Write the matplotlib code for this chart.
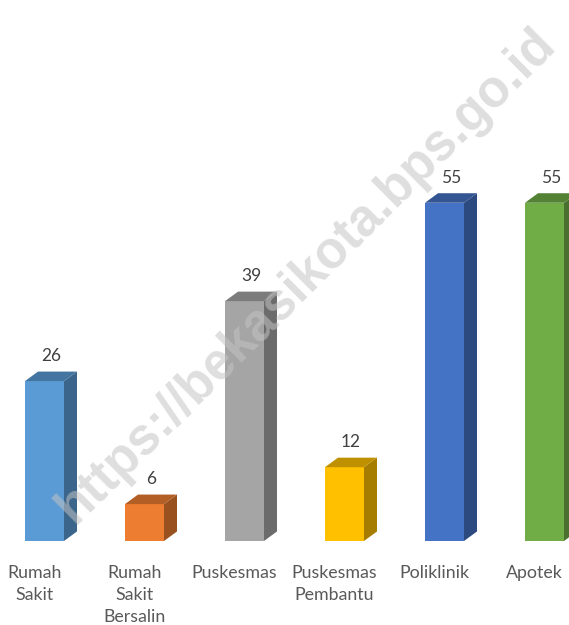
import matplotlib.pyplot as plt
from matplotlib.patches import Polygon
from matplotlib.colors import to_rgb

kategori = ["Rumah\nSakit", "Rumah\nSakit\nBersalin", "Puskesmas",
            "Puskesmas\nPembantu", "Poliklinik", "Apotek"]
jumlah = [26, 6, 39, 12, 55, 55]
warna = ["#5B9BD5", "#ED7D31", "#A5A5A5", "#FFC000", "#4472C4", "#70AD47"]

fig = plt.figure(figsize=(5.69, 6.25), dpi=100)
ax = fig.add_axes([0, 0, 1, 1])
ax.set_xlim(-0.445, 5.245)
ax.set_ylim(-13.66, 87.97)
ax.axis('off')

lebar = 0.39   # lebar muka depan
dx = 0.13      # kedalaman 3D (x)
dy = 1.55      # kedalaman 3D (y)


def gelap(c, f):
    r, g, b = to_rgb(c)
    return (r * f, g * f, b * f)


for i, (v, c) in enumerate(zip(jumlah, warna)):
    x0 = i - lebar / 2
    x1 = i + lebar / 2
    # muka depan
    ax.bar(i, v, width=lebar, color=c, zorder=2)
    # muka samping
    ax.add_patch(Polygon([(x1, 0), (x1 + dx, dy), (x1 + dx, v + dy), (x1, v)],
                         closed=True, facecolor=gelap(c, 0.65), edgecolor='none', zorder=2))
    # muka atas
    ax.add_patch(Polygon([(x0, v), (x0 + dx, v + dy), (x1 + dx, v + dy), (x1, v)],
                         closed=True, facecolor=gelap(c, 0.75), edgecolor='none', zorder=2))
    # nilai
    ax.text(i + dx / 2, v + 4.1, str(v), ha='center', va='center',
            fontsize=12.5, color='#404040', family='Lato')
    # label kategori
    ax.text(i - 0.1, -3.9, kategori[i], ha='center', va='top', fontsize=12.8,
            color='#595959', family='Lato', linespacing=1.48)

# watermark
fig.text(0.538, 0.558, "https://bekasikota.bps.go.id", rotation=44.8,
         rotation_mode='anchor', ha='center', va='center', fontsize=37,
         fontweight='bold', color='#c4c4c4', alpha=0.55,
         family='Liberation Sans', zorder=10)

fig.savefig('out.png', dpi=100)
